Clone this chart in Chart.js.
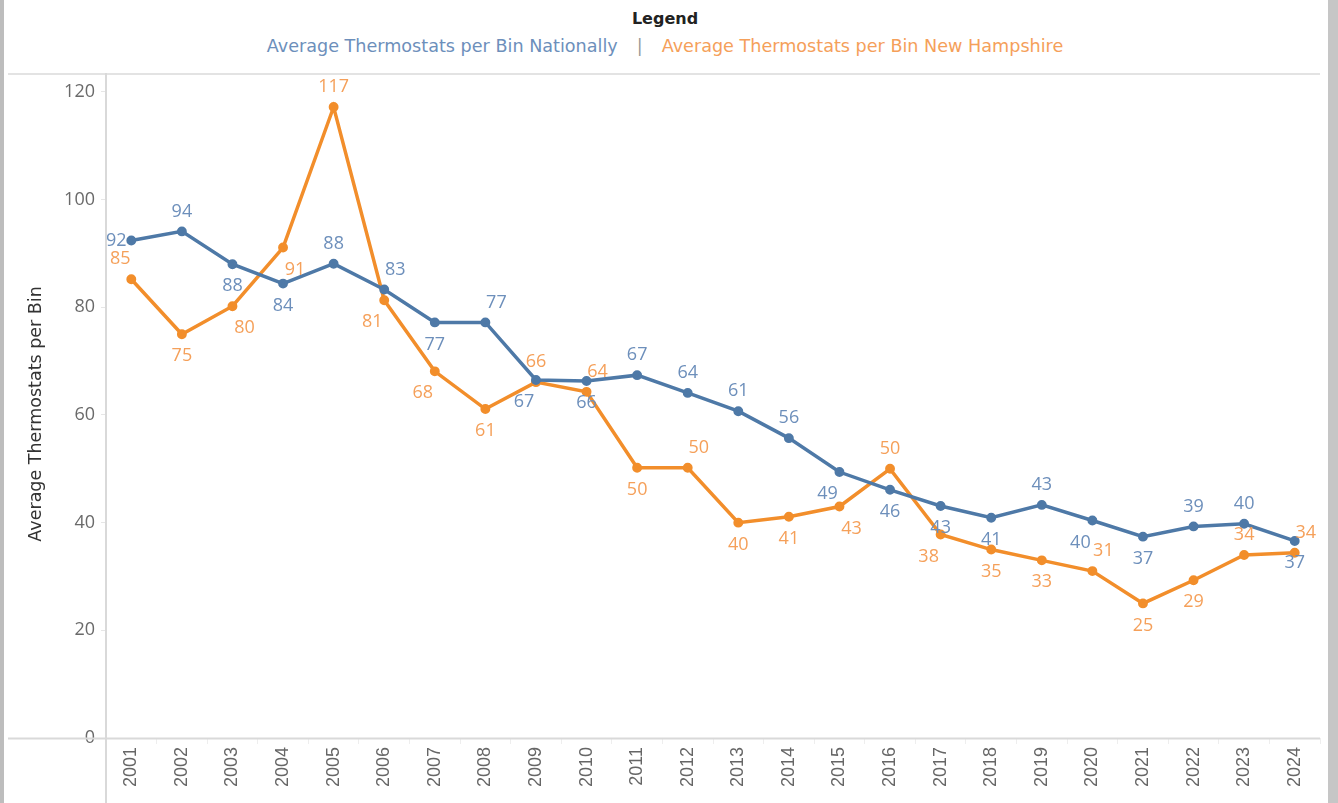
<!DOCTYPE html>
<html>
<head>
<meta charset="utf-8">
<script src="https://cdn.jsdelivr.net/npm/chart.js@4.4.1/dist/chart.umd.min.js"></script>
<style>
  html, body { margin: 0; padding: 0; background: #fff; }
  body { width: 1338px; height: 803px; position: relative; overflow: hidden; font-family: "DejaVu Sans", sans-serif; }
  #frameL { position: absolute; left: 0; top: 0; width: 4px; height: 803px; background: #bdbdbd; }
  #frameR { position: absolute; left: 1328px; top: 0; width: 10px; height: 803px; background: #c6c6c6; }
  #sep { position: absolute; left: 8px; top: 73px; width: 1312px; height: 2px; background: #e3e3e3; }
  #legTitle { position: absolute; top: 9px; left: 0; width: 1330px; text-align: center; font-size: 16px; font-weight: bold; color: #222; }
  #legRow { position: absolute; top: 36px; left: 0; width: 1330px; text-align: center; font-size: 17.6px; white-space: nowrap; }
  #legRow .nat { color: #6d8fbb; }
  #legRow .bar { color: #999; margin: 0 19px; }
  #legRow .nh { color: #f5a05a; }
  #wrap { position: absolute; left: 0; top: 73px; width: 1338px; height: 730px; }
</style>
</head>
<body>
<div id="frameL"></div>
<div id="frameR"></div>
<div id="legTitle">Legend</div>
<div id="legRow"><span class="nat">Average Thermostats per Bin Nationally</span><span class="bar">|</span><span class="nh">Average Thermostats per Bin New Hampshire</span></div>
<div id="sep"></div>
<div id="wrap"><canvas id="myChart" width="1338" height="730"></canvas></div>
<script>
// anios del eje x
const years = ['2001','2002','2003','2004','2005','2006','2007','2008','2009','2010','2011','2012',
               '2013','2014','2015','2016','2017','2018','2019','2020','2021','2022','2023','2024'];

// promedio nacional
const nationally = [92.4, 94.1, 88.0, 84.4, 88.1, 83.3, 77.2, 77.2, 66.5, 66.3, 67.4, 64.1,
                    60.7, 55.7, 49.4, 46.1, 43.1, 40.9, 43.3, 40.4, 37.4, 39.3, 39.8, 36.6];

// promedio New Hampshire
const newHampshire = [85.2, 75.0, 80.2, 91.1, 117.2, 81.3, 68.1, 61.1, 66.1, 64.3, 50.2, 50.2,
                      40.0, 41.1, 43.0, 50.0, 37.8, 35.0, 33.0, 31.0, 25.0, 29.3, 34.0, 34.4];

const yTicks = [0, 20, 40, 60, 80, 100, 120];

// donde va cada etiqueta (a=arriba, b=abajo, l=izq, r=der)
const natLabelPos = ['l','a','b','b','a','ar','b','ar','bl','b','a','a','a','a','bl','b','b','b','a','bl','b','a','a','b'];
const nhLabelPos = ['al','b','br','br','a','bl','bl','b','a','ar','b','ar','b','b','br','a','bl','b','b','ar','b','b','a','ar'];

const offsets = {
    a: [0, -20], b: [0, 22], l: [-15, 0],
    ar: [11, -20], al: [-11, -20], br: [12, 22], bl: [-12, 22]
};

// plugin para dibujar las etiquetas de valores
const valueLabels = {
    id: 'valueLabels',
    afterDatasetsDraw(chart) {
        const ctx = chart.ctx;
        ctx.save();
        ctx.font = '18px "Open Sans", sans-serif';
        ctx.textAlign = 'center';
        ctx.textBaseline = 'middle';
        chart.data.datasets.forEach((ds, di) => {
            const meta = chart.getDatasetMeta(di);
            ctx.fillStyle = ds.labelColor;
            meta.data.forEach((pt, i) => {
                const off = offsets[ds.labelPos[i]];
                ctx.fillText(Math.round(ds.data[i]), pt.x + off[0], pt.y + off[1]);
            });
        });
        ctx.restore();
    }
};

// lineas de ejes que se salen del area
const axisLines = {
    id: 'axisLines',
    afterDraw(chart) {
        const ctx = chart.ctx;
        const a = chart.chartArea;
        ctx.save();
        ctx.strokeStyle = '#d9d9d9';
        ctx.lineWidth = 2;
        ctx.beginPath();
        ctx.moveTo(8, a.bottom + 0.5);
        ctx.lineTo(a.right, a.bottom + 0.5);
        ctx.moveTo(a.left, 0);
        ctx.lineTo(a.left, chart.height);
        ctx.stroke();
        ctx.restore();
    }
};

const ctx = document.getElementById('myChart');
new Chart(ctx, {
    type: 'line',
    data: {
        labels: years,
        datasets: [{
            label: 'Average Thermostats per Bin Nationally',
            data: nationally,
            borderColor: '#4e79a7',
            backgroundColor: '#4e79a7',
            borderWidth: 3.5,
            pointRadius: 3.2,
            pointHoverRadius: 3.2,
            tension: 0,
            labelColor: '#6d8fbb',
            labelPos: natLabelPos
        }, {
            label: 'Average Thermostats per Bin New Hampshire',
            data: newHampshire,
            borderColor: '#f28e2b',
            backgroundColor: '#f28e2b',
            borderWidth: 3.5,
            pointRadius: 3.2,
            pointHoverRadius: 3.2,
            tension: 0,
            labelColor: '#f5a05a',
            labelPos: nhLabelPos
        }]
    },
    options: {
        responsive: false,
        animation: false,
        layout: { padding: { left: 0, right: 18, top: 0, bottom: 0 } },
        plugins: {
            legend: { display: false },
            tooltip: { enabled: false }
        },
        scales: {
            x: {
                offset: true,
                border: { display: false },
                grid: { drawOnChartArea: false, drawTicks: true, tickLength: 6, color: '#eeeeee', offset: true },
                ticks: {
                    color: '#666',
                    font: { size: 18, family: 'Liberation Sans' },
                    minRotation: 90,
                    maxRotation: 90,
                    padding: 3
                },
                afterFit(scale) { scale.height = 65; }
            },
            y: {
                min: 0,
                max: 120.4,
                border: { display: false },
                grid: { drawOnChartArea: false, drawTicks: true, tickLength: 5, color: '#e6e6e6' },
                afterBuildTicks(scale) { scale.ticks = yTicks.map(v => ({ value: v })); },
                ticks: {
                    includeBounds: false,
                    color: '#6a6a6a',
                    font: { size: 18, family: '"Open Sans", sans-serif' },
                    padding: 6
                },
                title: {
                    display: true,
                    text: 'Average Thermostats per Bin',
                    color: '#333',
                    font: { size: 17.5, family: '"DejaVu Sans", sans-serif' },
                    padding: { top: 26, bottom: 0 }
                },
                afterFit(scale) { scale.width = 106; }
            }
        }
    },
    plugins: [valueLabels, axisLines]
});
</script>
</body>
</html>
